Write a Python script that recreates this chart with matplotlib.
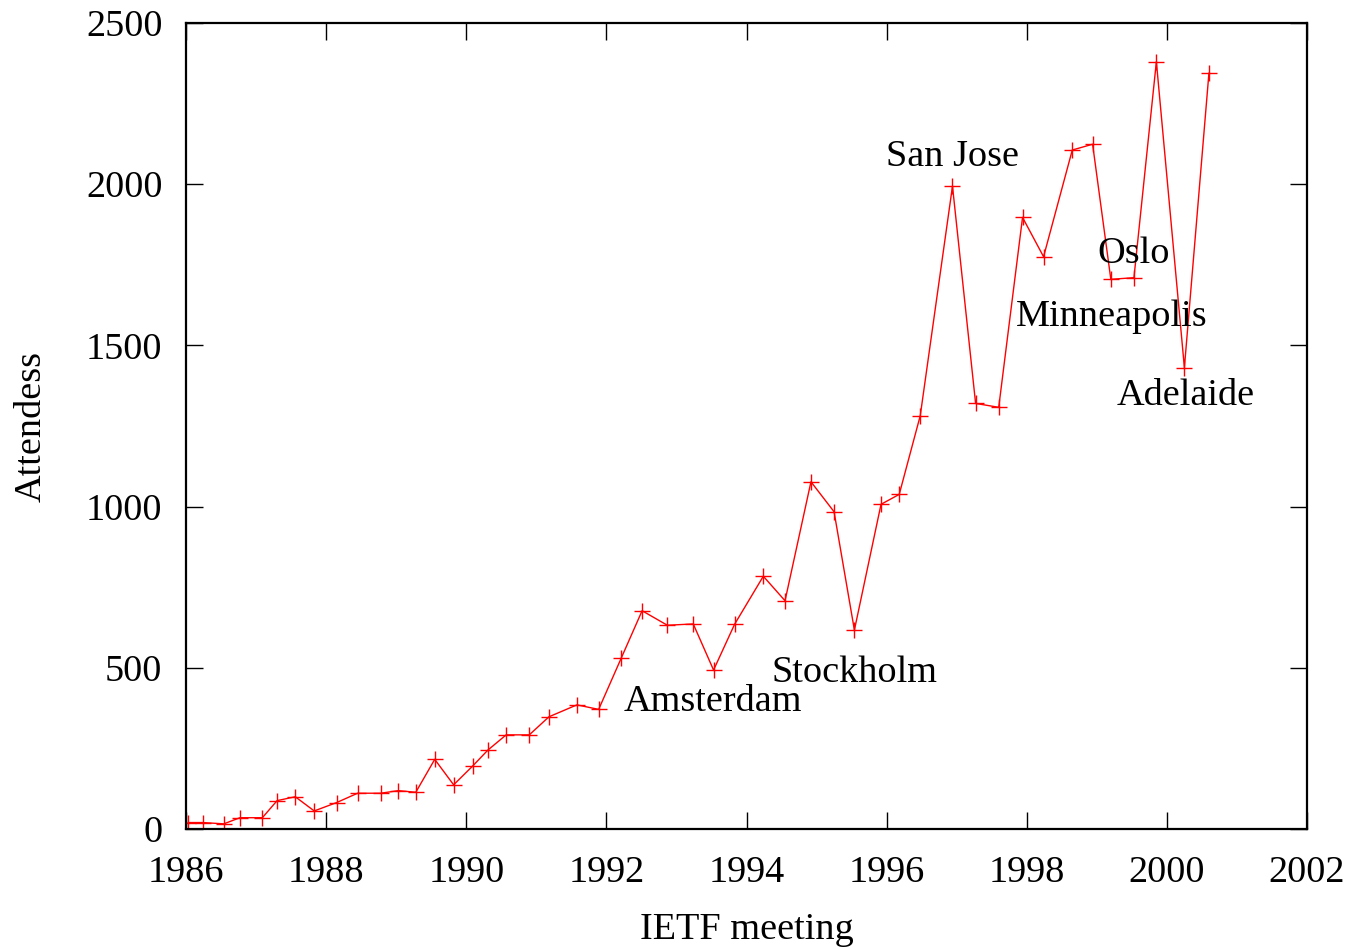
import matplotlib
matplotlib.use("Agg")
import matplotlib.pyplot as plt

plt.rcParams['font.family'] = ['Liberation Serif', 'DejaVu Serif']

# meeting date (fractional year) and attendance
meeting_dates = [
    1986.03, 1986.24, 1986.54, 1986.77, 1987.09, 1987.30, 1987.56, 1987.83,
    1988.15, 1988.45, 1988.78, 1989.03, 1989.28, 1989.55, 1989.82, 1990.09,
    1990.31, 1990.57, 1990.90, 1991.18, 1991.58, 1991.89, 1992.21, 1992.51,
    1992.87, 1993.24, 1993.53, 1993.83, 1994.24, 1994.55, 1994.92, 1995.25,
    1995.54, 1995.92, 1996.18, 1996.48, 1996.94, 1997.27, 1997.60, 1997.94,
    1998.24, 1998.65, 1998.94, 1999.20, 1999.53, 1999.85, 2000.25, 2000.60,
]
attendees = [
    20, 20, 16, 35, 35, 88, 100, 56,
    82, 111, 111, 119, 114, 216, 137, 195,
    245, 292, 292, 348, 385, 371, 529, 677,
    632, 636, 493, 635, 784, 708, 1077, 984,
    617, 1007, 1038, 1282, 1994, 1320, 1308, 1897,
    1775, 2106, 2124, 1705, 1710, 2380, 1431, 2344,
]

# city labels: (text, x, y, horizontal alignment)
label_text = ['San Jose', 'Oslo', 'Minneapolis', 'Adelaide', 'Stockholm', 'Amsterdam']
label_x = [1996.94, 1999.53, 1997.85, 1999.28, 1994.35, 1992.24]
label_y = [2085, 1785, 1590, 1345, 485, 395]
label_ha = ['center', 'center', 'left', 'left', 'left', 'left']

fig = plt.figure(figsize=(13.52, 9.49), dpi=100)
ax = fig.add_axes([186 / 1352, 1 - 829 / 949, (1307 - 186) / 1352, (829 - 23) / 949])

ax.plot(meeting_dates, attendees, color='red', linewidth=1.0, marker='+',
        markersize=12, markeredgewidth=1.0)

for txt, x, y, ha in zip(label_text, label_x, label_y, label_ha):
    ax.text(x, y, txt, fontsize=27.5, ha=ha, va='center')

ax.set_xlim(1986, 2002)
ax.set_ylim(0, 2500)
ax.set_xticks(range(1986, 2003, 2))
ax.set_yticks(range(0, 2501, 500))
ax.tick_params(direction='in', length=12, width=1, labelsize=27.5, top=True, right=True)
ax.tick_params(axis='x', pad=19)
ax.tick_params(axis='y', pad=17)
for s in ax.spines.values():
    s.set_linewidth(1.6)

ax.set_xlabel('IETF meeting', fontsize=27.5, labelpad=16)
ax.set_ylabel('Attendess', fontsize=27.5, labelpad=27)

fig.savefig('out.png', dpi=100)
